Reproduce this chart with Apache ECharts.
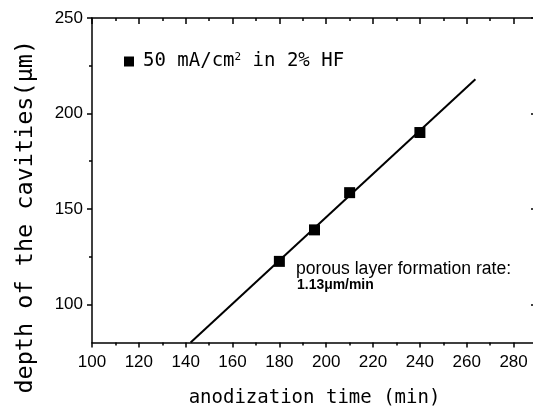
<!DOCTYPE html>
<html>
<head>
<meta charset="utf-8">
<script src="https://cdn.jsdelivr.net/npm/echarts@6/dist/echarts.min.js"></script>
<style>html,body{margin:0;padding:0;background:#fff;}#c{width:533px;height:407px;}</style>
</head>
<body>
<div id="c"></div>
<script>
// data
var timeMin = [180, 195, 210, 240];
var depthUm = [122.5, 139, 158.5, 190];
var fitX = [142.1, 263.7];
var fitY = [80, 217.9];
var yMajorTicks = [100, 150, 200, 250];
var yMinorTicks = [125, 175, 225];
var seriesName = '50 mA/cm2 in 2% HF';
var xTitle = 'anodization time (min)';
var yTitle = 'depth of the cavities(μm)';
var noteLine1 = 'porous layer formation rate:';
var noteLine2 = '1.13μm/min';

var chart = echarts.init(document.getElementById('c'), null, {renderer: 'canvas'});
var mono = 'DejaVu Sans Mono';
var sans = 'Liberation Sans';
var lineStyle = {color: '#000', width: 1.5};
var tickStyle = {color: '#000', width: 1.5};

var xBase = {
  type: 'value', min: 100, max: 290, interval: 20,
  splitLine: {show: false},
  axisLine: {show: true, lineStyle: lineStyle, onZero: false},
  minorTick: {show: true, splitNumber: 2, length: 3, lineStyle: tickStyle},
  axisTick: {show: true, length: 5, lineStyle: tickStyle}
};

var option = {
  animation: false,
  backgroundColor: '#fff',
  grid: {left: 92, top: 18, width: 445, height: 324.5, containLabel: false, outerBoundsMode: 'none'},
  legend: {
    left: 119, top: 47,
    icon: 'rect', itemWidth: 10, itemHeight: 10,
    data: [seriesName],
    itemStyle: {color: '#000', opacity: 1},
    formatter: function () { return '{a|50 mA/cm}{s|2}{a| in 2% HF}'; },
    textStyle: {
      padding: [0, 0, 0, 4],
      rich: {
        a: {fontFamily: mono, fontSize: 19, color: '#000'},
        s: {fontFamily: mono, fontSize: 11, color: '#000', verticalAlign: 'top', padding: [0, 0, 8, 0]}
      }
    }
  },
  xAxis: [
    Object.assign({}, xBase, {
      position: 'bottom',
      axisLabel: {show: true, fontFamily: sans, fontSize: 17, color: '#000', margin: 11, showMaxLabel: false},
      name: xTitle, nameLocation: 'middle', nameGap: 46,
      nameTextStyle: {fontFamily: mono, fontSize: 19, color: '#000'}
    }),
    Object.assign({}, xBase, {
      position: 'top',
      axisLabel: {show: false},
      axisTick: {show: true, inside: true, length: 6, lineStyle: tickStyle},
      minorTick: {show: true, splitNumber: 2, length: 3, lineStyle: tickStyle}
    })
  ],
  yAxis: [
    {
      type: 'value', min: 80, max: 250, position: 'left',
      splitLine: {show: false},
      axisLine: {show: true, lineStyle: lineStyle, onZero: false},
      axisTick: {show: true, length: 5, customValues: yMajorTicks, lineStyle: tickStyle},
      axisLabel: {show: true, customValues: yMajorTicks, fontFamily: sans, fontSize: 17, color: '#000', margin: 9},
      name: yTitle, nameLocation: 'middle', nameGap: 54,
      nameTextStyle: {fontFamily: mono, fontSize: 23.5, color: '#000', padding: [0, 73, 0, 0]}
    },
    {
      type: 'value', min: 80, max: 250, position: 'left',
      splitLine: {show: false},
      axisLine: {show: false},
      axisTick: {show: true, length: 3, customValues: yMinorTicks, lineStyle: tickStyle},
      axisLabel: {show: false}
    },
    {
      type: 'value', min: 80, max: 250, position: 'right',
      splitLine: {show: false},
      axisLine: {show: true, lineStyle: lineStyle, onZero: false},
      axisTick: {show: true, inside: true, length: 6, customValues: yMajorTicks, lineStyle: tickStyle},
      axisLabel: {show: false}
    }
  ],
  graphic: [
    {
      type: 'text', left: 296, top: 260,
      style: {text: noteLine1, fontFamily: sans, fontSize: 17.6, fill: '#000'}
    },
    {
      type: 'text', x: 297, y: 276.5, scaleX: 0.9,
      style: {text: noteLine2, fontFamily: sans, fontSize: 15.5, fontWeight: 'bold', fill: '#000'}
    }
  ],
  series: [
    {
      name: 'fit', type: 'line', xAxisIndex: 0, yAxisIndex: 0,
      data: fitX.map(function (x, i) { return [x, fitY[i]]; }),
      showSymbol: false, symbol: 'none',
      lineStyle: {color: '#000', width: 2},
      z: 2
    },
    {
      name: seriesName, type: 'scatter', xAxisIndex: 0, yAxisIndex: 0,
      data: timeMin.map(function (x, i) { return [x, depthUm[i]]; }),
      symbol: 'rect', symbolSize: 11,
      itemStyle: {color: '#000', opacity: 1},
      z: 3
    }
  ]
};
chart.setOption(option);
</script>
</body>
</html>
